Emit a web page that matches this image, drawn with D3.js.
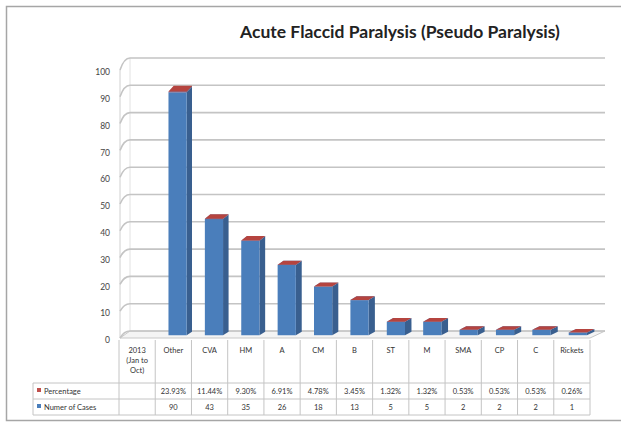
<!DOCTYPE html>
<html>
<head>
<meta charset="utf-8">
<script src="https://cdn.jsdelivr.net/npm/d3@7"></script>
<style>
  body { margin: 0; background: #fff; }
  text { font-family: Lato, "Open Sans", sans-serif; fill: #333; }
</style>
</head>
<body>
<div id="chart"></div>
<script>
// data
const categories = ["2013 (Jan to Oct)", "Other", "CVA", "HM", "A", "CM", "B", "ST", "M", "SMA", "CP", "C", "Rickets"];
const cases = [null, 90, 43, 35, 26, 18, 13, 5, 5, 2, 2, 2, 1];
const percentages = [null, 23.93, 11.44, 9.30, 6.91, 4.78, 3.45, 1.32, 1.32, 0.53, 0.53, 0.53, 0.26];
const yTicks = [0, 10, 20, 30, 40, 50, 60, 70, 80, 90, 100];
const seriesNames = ["Percentage", "Numer of Cases"];

const W = 621, H = 423;
const svg = d3.select("#chart").append("svg").attr("width", W).attr("height", H);

// outer chart border
svg.append("rect")
    .attr("x", 6.5).attr("y", 6.5).attr("width", 640).attr("height", 414)
    .attr("fill", "#fff").attr("stroke", "#a6a6a6").attr("stroke-width", 1.5);

// title
svg.append("text")
    .attr("x", 400).attr("y", 38)
    .attr("text-anchor", "middle")
    .style("font-size", "17.5px").style("font-weight", "bold").style("fill", "#222")
    .text("Acute Flaccid Paralysis (Pseudo Paralysis)");

// scales: front plane and back wall (simple oblique 3d)
const x = d3.scaleBand().domain(categories).range([119, 590]).padding(0);
const yFront = d3.scaleLinear().domain([0, 100]).range([338, 70]);
const yBack = d3.scaleLinear().domain([0, 100]).range([331, 58]);
const xBack = d3.scaleLinear().domain([120, 590]).range([130, 605]);

// point at front x, value v, depth t (0 front .. 1 back)
function pt(xf, v, t) {
    const xx = xf + t * (xBack(xf) - xf);
    const yy = yFront(v) + t * (yBack(v) - yFront(v));
    return [xx, yy];
}

const walls = svg.append("g");

// floor
const fl = [pt(120, 0, 0), pt(590, 0, 0), pt(590, 0, 1), pt(120, 0, 1)];
walls.append("path")
    .attr("d", "M" + fl.join("L") + "Z")
    .attr("fill", "#f4f4f4").attr("stroke", "#c8c8c8").attr("stroke-width", 1);

// side wall edge
walls.append("line")
    .attr("x1", 120).attr("y1", yFront(0)).attr("x2", 120).attr("y2", yFront(100))
    .attr("stroke", "#d0d0d0");
walls.append("line")
    .attr("x1", 130).attr("y1", yBack(0)).attr("x2", 130).attr("y2", yBack(100))
    .attr("stroke", "#e2e2e2");

// gridlines on back wall and side wall
yTicks.forEach(v => {
    const a = pt(120, v, 0), b = pt(120, v, 1);
    walls.append("path")
        .attr("d", `M${a}Q${a[0] + 4},${b[1]} ${b}L${xBack(590)},${b[1]}`)
        .attr("fill", "none").attr("stroke", "#c4c4c4").attr("stroke-width", 1.6);
});

// y axis labels
const yAxis = svg.append("g")
    .attr("transform", "translate(110,2)")
    .call(d3.axisLeft(yFront).tickValues(yTicks).tickSize(0).tickPadding(0));
yAxis.select(".domain").remove();
yAxis.selectAll("text").style("font-size", "8.5px").style("fill", "#444")
    .style("font-family", "Lato, sans-serif");

// bars: number of cases with percentage stacked on top (as fraction)
const barW = x.bandwidth() * 0.5;
const t0 = 0.4, t1 = 0.9;
const colors = {
    blue: { front: "#4a7ebb", side: "#395f8f", top: "#5b8fcf" },
    red: { front: "#c0504d", side: "#8c3633", top: "#b5443f" }
};

function block(g, xl, v0, v1, c) {
    const xr = xl + barW;
    const f = [pt(xl, v0, t0), pt(xr, v0, t0), pt(xr, v1, t0), pt(xl, v1, t0)];
    const s = [pt(xr, v0, t0), pt(xr, v0, t1), pt(xr, v1, t1), pt(xr, v1, t0)];
    const tp = [pt(xl, v1, t0), pt(xr, v1, t0), pt(xr, v1, t1), pt(xl, v1, t1)];
    g.append("path").attr("d", "M" + s.join("L") + "Z").attr("fill", c.side);
    g.append("path").attr("d", "M" + f.join("L") + "Z").attr("fill", c.front);
    g.append("path").attr("d", "M" + tp.join("L") + "Z").attr("fill", c.top);
}

const bars = svg.append("g");
categories.forEach((cat, i) => {
    if (cases[i] == null) return;
    const xl = x(cat) + (x.bandwidth() - barW) / 2;
    const g = bars.append("g");
    block(g, xl, 0, cases[i], colors.blue);
    block(g, xl, cases[i], cases[i] + percentages[i] / 100, colors.red);
});

// data table
const table = svg.append("g");
const rowTop = 340, rowHead = 383, rowPct = 399, rowNum = 415, legX = 33;
const lineColor = "#c4c4c4";

[rowHead, rowPct, rowNum].forEach(yy => {
    table.append("line").attr("x1", legX).attr("x2", 590).attr("y1", yy).attr("y2", yy)
        .attr("stroke", lineColor);
});
table.append("line").attr("x1", legX).attr("x2", legX).attr("y1", rowHead).attr("y2", rowNum)
    .attr("stroke", lineColor);
categories.forEach(cat => {
    table.append("line").attr("x1", x(cat)).attr("x2", x(cat)).attr("y1", rowTop).attr("y2", rowNum)
        .attr("stroke", lineColor);
});
table.append("line").attr("x1", 590).attr("x2", 590).attr("y1", rowTop).attr("y2", rowNum)
    .attr("stroke", lineColor);

// category headers
categories.forEach((cat, i) => {
    const cx = x(cat) + x.bandwidth() / 2;
    const lines = i === 0 ? ["2013", "(Jan to", "Oct)"] : [cat];
    lines.forEach((l, k) => {
        table.append("text")
            .attr("x", cx).attr("y", 353 + k * 10)
            .attr("text-anchor", "middle")
            .style("font-size", "7.5px")
            .text(l);
    });
    if (percentages[i] != null) {
        table.append("text")
            .attr("x", cx).attr("y", 394)
            .attr("text-anchor", "middle").style("font-size", "7.5px")
            .text(percentages[i].toFixed(2) + "%");
        table.append("text")
            .attr("x", cx).attr("y", 410)
            .attr("text-anchor", "middle").style("font-size", "7.5px")
            .text(cases[i]);
    }
});

// legend keys in table
[[colors.red.front, seriesNames[0], 394], [colors.blue.front, seriesNames[1], 410]].forEach(([c, name, yy]) => {
    table.append("rect").attr("x", 37).attr("y", yy - 6).attr("width", 4).attr("height", 4).attr("fill", c);
    table.append("text").attr("x", 44).attr("y", yy)
        .style("font-size", "7.5px").text(name);
});
</script>
</body>
</html>
